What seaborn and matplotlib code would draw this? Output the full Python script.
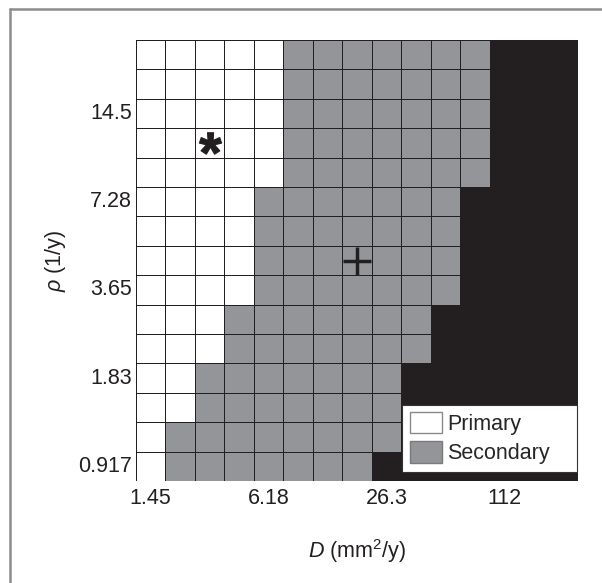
import numpy as np
import matplotlib
matplotlib.use("Agg")
import matplotlib.pyplot as plt
import seaborn as sns
from matplotlib.colors import ListedColormap
from matplotlib.patches import Patch
from matplotlib.lines import Line2D
from matplotlib.textpath import TextPath
from matplotlib.font_manager import FontProperties
from matplotlib.path import Path

# ---- data (rows top -> bottom = rho descending; columns left -> right = D ascending) ----
n_rows = 15
n_cols = 15
primary_count = [5, 5, 5, 5, 5, 4, 4, 4, 4, 3, 3, 2, 2, 1, 1]      # white cells per row
black_start = [12, 12, 12, 12, 12, 11, 11, 11, 11, 10, 10, 9, 9, 9, 8]  # first black column per row
x_tick_labels = ["1.45", "6.18", "26.3", "112"]
y_tick_labels = ["14.5", "7.28", "3.65", "1.83", "0.917"]
legend_labels = ["Primary", "Secondary"]
star_cell = (2, 3)   # (column, row)
plus_cell = (7, 7)

codes = np.ones((n_rows, n_cols), dtype=int)
for r in range(n_rows):
    codes[r, :primary_count[r]] = 0
    codes[r, black_start[r]:] = 2

sns.set_style("white")
plt.rcParams["font.family"] = ["Liberation Sans", "DejaVu Sans"]
plt.rcParams["mathtext.fontset"] = "custom"
plt.rcParams["mathtext.rm"] = "Liberation Sans"
plt.rcParams["mathtext.it"] = "Liberation Sans:italic"
plt.rcParams["mathtext.bf"] = "Liberation Sans:bold"

W, H = 602, 583
fig = plt.figure(figsize=(W / 100, H / 100), dpi=100)
ax = fig.add_axes([136 / W, 1 - 481 / H, 442 / W, 441 / H])

gray = "#939598"
black = "#231f20"
cmap = ListedColormap(["white", gray, black])

# white (primary) cells with light grid lines
sns.heatmap(codes, mask=(codes != 0), cmap=cmap, vmin=-0.5, vmax=2.5,
            linewidths=0.7, linecolor="#9a9a9a", cbar=False, ax=ax)
# gray (secondary) cells with darker grid lines
sns.heatmap(codes, mask=(codes != 1), cmap=cmap, vmin=-0.5, vmax=2.5,
            linewidths=0.7, linecolor="#646466", cbar=False, ax=ax)
# black cells, no visible grid
sns.heatmap(codes, mask=(codes != 2), cmap=cmap, vmin=-0.5, vmax=2.5,
            linewidths=0.4, linecolor=black, cbar=False, ax=ax)

ax.set_xticks([0.5, 4.5, 8.5, 12.5])
ax.set_xticklabels(x_tick_labels, rotation=0)
ax.set_yticks([2.5, 5.5, 8.5, 11.5, 14.5])
ax.set_yticklabels(y_tick_labels, rotation=0)
ax.tick_params(axis="both", length=0, labelsize=15.5, colors="#231f20")
ax.tick_params(axis="x", pad=5)
ax.tick_params(axis="y", pad=3)

ax.set_xlabel("$D$ (mm$^2$/y)", fontsize=15.5, labelpad=20, color="#231f20")
ax.set_ylabel(r"$\rho$ (1/y)", fontsize=15.5, labelpad=7, color="#231f20")

# markers
tp = TextPath((0, 0), "*", size=1, prop=FontProperties(family="Liberation Sans", weight="bold"))
v = tp.vertices.copy()
real = tp.codes != Path.CLOSEPOLY
c = (v[real].min(axis=0) + v[real].max(axis=0)) / 2
v = v - c
v[~real] = 0.0
star_path = Path(v, tp.codes)
ax.plot(star_cell[0] + 0.5, star_cell[1] + 0.5, marker=star_path, ms=16,
        color=black, mec=black, mew=0.8, linestyle="none")
ax.plot(plus_cell[0] + 0.5, plus_cell[1] + 0.5, marker="+", ms=20, mew=2.5,
        color=black, linestyle="none")

handles = [Patch(facecolor="white", edgecolor="#8a8a8a", linewidth=1.0),
           Patch(facecolor=gray, edgecolor="#7a7a7a", linewidth=1.0)]
leg = ax.legend(handles, legend_labels, loc="lower left",
                bbox_to_anchor=((402 - 136) / 442, (481 - 472) / 441, (577 - 402) / 442, 0.1),
                mode="expand", borderaxespad=0, fontsize=15.5, frameon=True,
                fancybox=False, framealpha=1, edgecolor="#333333",
                handlelength=1.5, handleheight=1.15, handletextpad=0.25,
                labelspacing=0.3, borderpad=0.35)
leg.get_frame().set_linewidth(0.8)

# figure border (left and top)
fig.add_artist(Line2D([9.5 / W, 9.5 / W], [0, 1 - 9 / H], transform=fig.transFigure,
                      color="#8c8c8c", lw=1.8))
fig.add_artist(Line2D([9.5 / W, 1], [1 - 9 / H, 1 - 9 / H], transform=fig.transFigure,
                      color="#8c8c8c", lw=1.8))

fig.savefig("out.png", dpi=100)
